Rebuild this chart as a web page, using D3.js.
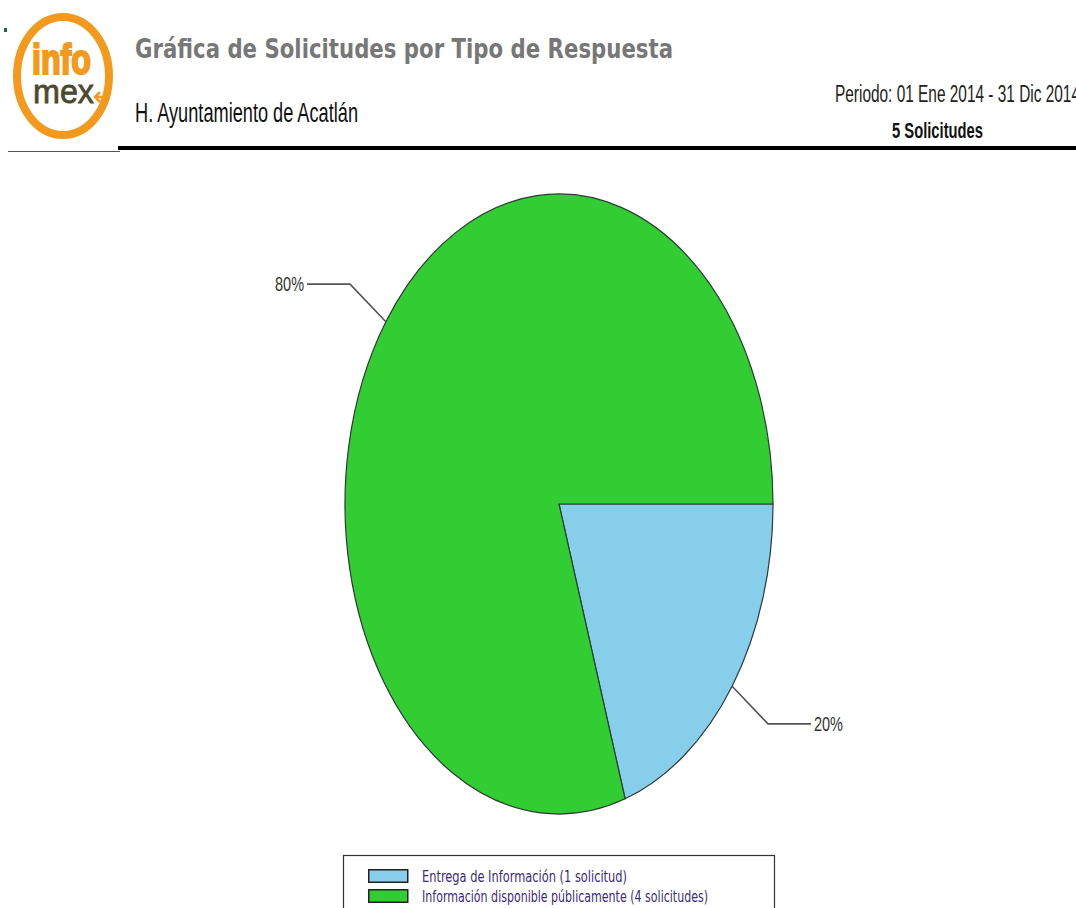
<!DOCTYPE html>
<html>
<head>
<meta charset="utf-8">
<script src="https://cdn.jsdelivr.net/npm/d3@7"></script>
<style>
  body { margin: 0; background: #fff; }
  svg { display: block; }
</style>
</head>
<body>
<svg id="chart" width="1076" height="908"></svg>
<script>
// datos de la grafica
var categorias = ["Entrega de Información", "Información disponible públicamente"];
var valores = [1, 4];
var etiquetasLeyenda = ["Entrega de Información (1  solicitud)", "Información disponible públicamente (4  solicitudes)"];
var colores = ["#87ceeb", "#32cd32"];

var svg = d3.select("#chart");

// texto estirado en vertical, como en la imagen original
function texto(parent, x, y, sy, str) {
  return parent.append("text")
    .attr("transform", "translate(" + x + "," + y + ") scale(1," + sy + ")")
    .text(str);
}

// ---- encabezado ----
var logo = svg.append("g");
logo.append("ellipse")
  .attr("cx", 63).attr("cy", 76).attr("rx", 46).attr("ry", 59)
  .attr("fill", "#fff").attr("stroke", "#f39a1e").attr("stroke-width", 8);
texto(logo, 32, 74, 1.4, "info")
  .attr("font-family", "Liberation Sans, Arial").attr("font-weight", "bold")
  .attr("font-size", 30).attr("textLength", 59).attr("lengthAdjust", "spacingAndGlyphs")
  .attr("fill", "#f39a1e").attr("stroke", "#f39a1e").attr("stroke-width", 1.6);
texto(logo, 33, 103, 1.3, "mex")
  .attr("font-family", "Liberation Sans, Arial")
  .attr("font-size", 26).attr("textLength", 61).attr("lengthAdjust", "spacingAndGlyphs")
  .attr("fill", "#4b4a30").attr("stroke", "#4b4a30").attr("stroke-width", 0.6);
logo.append("path")
  .attr("d", "M100,92 L95,97 L100,102 M95,97 L105,97")
  .attr("fill", "none").attr("stroke", "#f39a1e").attr("stroke-width", 2.5);
svg.append("rect").attr("x", 4).attr("y", 28).attr("width", 3).attr("height", 4).attr("fill", "#2a5a5a");

texto(svg, 135, 58, 1.1, "Gráfica de Solicitudes por Tipo de Respuesta")
  .attr("font-family", "DejaVu Sans, Verdana").attr("font-weight", "bold")
  .attr("font-size", 24).attr("textLength", 538).attr("lengthAdjust", "spacingAndGlyphs")
  .attr("fill", "#777");

texto(svg, 135, 122, 1.33, "H. Ayuntamiento de Acatlán")
  .attr("font-family", "Liberation Sans, Arial")
  .attr("font-size", 21).attr("textLength", 223).attr("lengthAdjust", "spacingAndGlyphs")
  .attr("fill", "#111");

texto(svg, 835, 102, 1.22, "Periodo: 01 Ene 2014 - 31 Dic 2014")
  .attr("font-family", "Liberation Sans, Arial")
  .attr("font-size", 19).attr("textLength", 245).attr("lengthAdjust", "spacingAndGlyphs")
  .attr("fill", "#222");

texto(svg, 892, 138, 1.2, d3.sum(valores) + " Solicitudes")
  .attr("font-family", "Liberation Sans, Arial").attr("font-weight", "bold")
  .attr("font-size", 19).attr("textLength", 91).attr("lengthAdjust", "spacingAndGlyphs")
  .attr("fill", "#111");

svg.append("line").attr("x1", 8).attr("x2", 120).attr("y1", 151.5).attr("y2", 151.5)
  .attr("stroke", "#555").attr("stroke-width", 1);
svg.append("line").attr("x1", 118).attr("x2", 1076).attr("y1", 148).attr("y2", 148)
  .attr("stroke", "#000").attr("stroke-width", 4);

// ---- pastel (eliptico) ----
var cx = 559, cy = 504, rx = 214, ry = 310;
var total = d3.sum(valores);

var pie = d3.pie().sort(null)
  .startAngle(Math.PI / 2).endAngle(Math.PI / 2 + 2 * Math.PI);
var arcos = pie(valores);
var arc = d3.arc().innerRadius(0).outerRadius(rx);
var color = d3.scaleOrdinal().domain(categorias).range(colores);

var gPie = svg.append("g")
  .attr("transform", "translate(" + cx + "," + cy + ") scale(1," + (ry / rx) + ")");
gPie.selectAll("path")
  .data(arcos)
  .join("path")
  .attr("d", arc)
  .attr("fill", function(d, i) { return color(categorias[i]); })
  .attr("stroke", "#2d3a35")
  .attr("stroke-width", 1.2)
  .attr("vector-effect", "non-scaling-stroke");

// etiquetas con lineas guia
var gLab = svg.append("g");
arcos.forEach(function(d) {
  var a = (d.startAngle + d.endAngle) / 2;
  var ux = Math.sin(a), uy = -Math.cos(a);
  var p0 = [cx + rx * ux, cy + ry * uy];
  var dx = rx * ux, dy = ry * uy, len = Math.sqrt(dx * dx + dy * dy);
  var p1 = [p0[0] + 52 * dx / len, p0[1] + 52 * dy / len];
  var side = ux >= 0 ? 1 : -1;
  var p2 = [p1[0] + side * 43, p1[1]];
  gLab.append("polyline")
    .attr("points", [p0, p1, p2].map(function(p) { return p.join(","); }).join(" "))
    .attr("fill", "none").attr("stroke", "#555").attr("stroke-width", 1.6);
  texto(gLab, p2[0] + side * 3, p2[1] + 7, 1.2, d3.format(".0%")(d.value / total))
    .attr("text-anchor", side > 0 ? "start" : "end")
    .attr("font-family", "Liberation Sans, Arial")
    .attr("font-size", 17).attr("textLength", 29).attr("lengthAdjust", "spacingAndGlyphs")
    .attr("fill", "#333");
});

// ---- leyenda ----
var leg = svg.append("g");
leg.append("rect")
  .attr("x", 343.5).attr("y", 855.5).attr("width", 431).attr("height", 70)
  .attr("fill", "#fff").attr("stroke", "#333").attr("stroke-width", 1.2);
var items = leg.selectAll("g.item")
  .data(etiquetasLeyenda)
  .join("g")
  .attr("class", "item")
  .attr("transform", function(d, i) { return "translate(368," + (869 + i * 20) + ")"; });
items.append("rect")
  .attr("x", 0.75).attr("y", 0.75).attr("width", 39).attr("height", 12.5)
  .attr("fill", function(d, i) { return color(categorias[i]); })
  .attr("stroke", "#222").attr("stroke-width", 1.5);
items.each(function(d, i) {
  texto(d3.select(this), 54, 13, 1.3, d)
    .attr("font-family", "DejaVu Sans, Verdana")
    .attr("font-size", 12.5)
    .attr("textLength", i === 0 ? 205 : 286)
    .attr("lengthAdjust", "spacingAndGlyphs")
    .attr("fill", "#3b2a7a");
});
</script>
</body>
</html>
